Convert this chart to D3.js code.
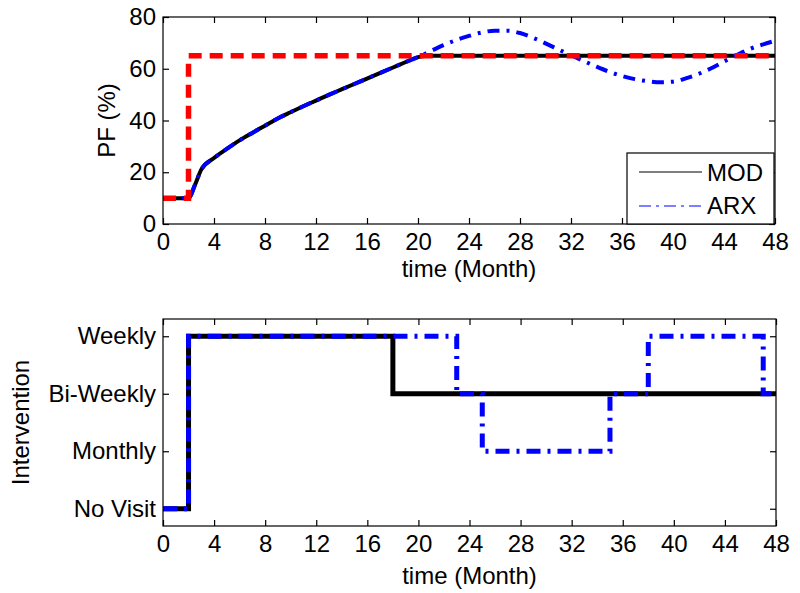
<!DOCTYPE html>
<html>
<head>
<meta charset="utf-8">
<script src="https://cdn.jsdelivr.net/npm/d3@7"></script>
<style>
  html, body { margin: 0; padding: 0; background: #fff; }
  svg { display: block; }
  text { font-family: "Liberation Sans", Arial, Helvetica, sans-serif; fill: #000; }
</style>
</head>
<body>
<svg id="chart" width="800" height="593"></svg>
<script>
// ---------------- DATA ----------------
// Top panel: PF (%) vs time (Month)
const modMonths = [0, 1, 2, 2.5, 3, 4, 5, 6, 7, 8, 9, 10, 11, 12, 13, 14, 15, 16, 17, 18, 19, 20, 21, 48];
const modPF     = [10, 10, 10, 15, 21, 25.5, 29, 32.3, 35.2, 38, 40.8, 43.2, 45.5, 47.7, 49.9, 52, 54.1, 56.2, 58.3, 60.4, 62.5, 64.5, 65, 65];

const arxMonths = [0, 1, 2, 2.5, 3, 4, 5, 6, 7, 8, 9, 10, 11, 12, 13, 14, 15, 16, 17, 18, 19, 20,
                   21, 22, 23, 24, 25, 26, 27, 28, 29, 30, 31, 32, 33, 34, 35, 36, 37, 38, 39, 40,
                   41, 42, 43, 44, 45, 46, 47, 48];
const arxPF     = [10, 10, 10, 15, 21, 25.5, 29, 32.3, 35.2, 38, 40.8, 43.2, 45.5, 47.7, 49.9, 52, 54.1, 56.2, 58.3, 60.4, 62.5, 64.5,
                   66.8, 69.1, 71.1, 72.7, 74, 74.7, 74.7, 73.8, 72, 69.8, 67.5, 65.2, 63, 60.8, 58.8, 57.2, 56, 55.2, 54.8, 55,
                   56.3, 58, 60.2, 62.8, 65.3, 67.6, 69.3, 70.8];

const setMonths = [0, 2, 2, 48];
const setPF     = [10, 10, 65, 65];

const xTicks  = [0, 4, 8, 12, 16, 20, 24, 28, 32, 36, 40, 44, 48];
const pfTicks = [0, 20, 40, 60, 80];

// Bottom panel: intervention level (step)
const levelNames  = ["No Visit", "Monthly", "Bi-Weekly", "Weekly"];
const levelValues = [1, 2, 3, 4];

const modStepMonths = [0, 2, 18, 48];
const modStepLevel  = [1, 4, 3, 3];
const arxStepMonths = [0, 2, 23, 25, 35, 38, 47, 48];
const arxStepLevel  = [1, 4, 3, 2, 3, 4, 3, 3];

const seriesNames = ["MOD", "ARX"];

// ---------------- LAYOUT ----------------
const svg = d3.select("#chart");
const FS = 24;

function panel(box, yDomain, yTicks, yFormat) {
  const x = d3.scaleLinear().domain([0, 48]).range([box.l, box.r]);
  const y = d3.scaleLinear().domain(yDomain).range([box.b, box.t]);
  const g = svg.append("g");

  const ax = (sel) => { sel.select(".domain").remove(); sel.selectAll("line").attr("stroke", "#000").attr("stroke-width", 1.2); };

  g.append("g").attr("transform", `translate(0,${box.b})`)
    .call(d3.axisBottom(x).tickValues(xTicks).tickSizeInner(-6).tickSizeOuter(0).tickPadding(9).tickFormat(d3.format("d")))
    .call(ax);
  g.append("g").attr("transform", `translate(0,${box.t})`)
    .call(d3.axisTop(x).tickValues(xTicks).tickSizeInner(-6).tickSizeOuter(0).tickFormat(""))
    .call(ax);
  g.append("g").attr("transform", `translate(${box.l},0)`)
    .call(d3.axisLeft(y).tickValues(yTicks).tickSizeInner(-6).tickSizeOuter(0).tickPadding(7).tickFormat(yFormat))
    .call(ax);
  g.append("g").attr("transform", `translate(${box.r},0)`)
    .call(d3.axisRight(y).tickValues(yTicks).tickSizeInner(-6).tickSizeOuter(0).tickFormat(""))
    .call(ax);

  g.selectAll("g").attr("font-family", null).attr("font-size", null);
  g.selectAll(".tick text").style("font-size", FS + "px");

  return { x, y, g };
}

// Top panel
const topP = panel({ l: 163, r: 775, t: 17, b: 224 }, [0, 80], pfTicks, d3.format("d"));
const lineTop = d3.line().x(d => topP.x(d[0])).y(d => topP.y(d[1])).curve(d3.curveMonotoneX);
const plotTop = svg.append("g");

plotTop.append("path").datum(d3.zip(modMonths, modPF))
  .attr("d", lineTop).attr("fill", "none").attr("stroke", "#000").attr("stroke-width", 4);
plotTop.append("path").datum(d3.zip(arxMonths, arxPF))
  .attr("d", lineTop).attr("fill", "none").attr("stroke", "#0000ff").attr("stroke-width", 4)
  .attr("stroke-dasharray", "12,7,3,7");
plotTop.append("path").datum(d3.zip(setMonths, setPF))
  .attr("d", d3.line().x(d => topP.x(d[0])).y(d => topP.y(d[1])))
  .attr("fill", "none").attr("stroke", "#ff0000").attr("stroke-width", 5.5)
  .attr("stroke-dasharray", "13,8");

// box
svg.append("rect").attr("x", 163).attr("y", 17).attr("width", 612).attr("height", 207)
  .attr("fill", "none").attr("stroke", "#000").attr("stroke-width", 1.2);

// legend
const lg = svg.append("g");
lg.append("rect").attr("x", 627).attr("y", 153).attr("width", 147).attr("height", 71)
  .attr("fill", "#fff").attr("stroke", "#000").attr("stroke-width", 1.2);
lg.append("line").attr("x1", 639).attr("x2", 702).attr("y1", 172).attr("y2", 172)
  .attr("stroke", "#000").attr("stroke-width", 1.2);
lg.append("line").attr("x1", 639).attr("x2", 702).attr("y1", 206).attr("y2", 206)
  .attr("stroke", "#0000ff").attr("stroke-width", 1.2).attr("stroke-dasharray", "12,5,3,5");
lg.append("text").attr("x", 707).attr("y", 181).style("font-size", FS + "px").text(seriesNames[0]);
lg.append("text").attr("x", 707).attr("y", 214).style("font-size", FS + "px").text(seriesNames[1]);

// axis labels top
svg.append("text").attr("x", 469).attr("y", 277).attr("text-anchor", "middle")
  .style("font-size", FS + "px").text("time (Month)");
svg.append("text").attr("transform", "translate(115,120.5) rotate(-90)").attr("text-anchor", "middle")
  .style("font-size", FS + "px").text("PF (%)");

// Bottom panel
const botP = panel({ l: 163, r: 776, t: 319, b: 526 }, [0.7, 4.3], levelValues, d => levelNames[levelValues.indexOf(d)]);
const stepLine = d3.line().x(d => botP.x(d[0])).y(d => botP.y(d[1])).curve(d3.curveStepAfter);
const plotBot = svg.append("g");
plotBot.append("path").datum(d3.zip(modStepMonths, modStepLevel))
  .attr("d", stepLine).attr("fill", "none").attr("stroke", "#000").attr("stroke-width", 5);
plotBot.append("path").datum(d3.zip(arxStepMonths, arxStepLevel))
  .attr("d", stepLine).attr("fill", "none").attr("stroke", "#0000ff").attr("stroke-width", 5)
  .attr("stroke-dasharray", "14,7,3,7");

svg.append("rect").attr("x", 163).attr("y", 319).attr("width", 613).attr("height", 207)
  .attr("fill", "none").attr("stroke", "#000").attr("stroke-width", 1.2);

svg.append("text").attr("x", 469.5).attr("y", 584).attr("text-anchor", "middle")
  .style("font-size", FS + "px").text("time (Month)");
svg.append("text").attr("transform", "translate(29,422.5) rotate(-90)").attr("text-anchor", "middle")
  .style("font-size", FS + "px").text("Intervention");
</script>
</body>
</html>
